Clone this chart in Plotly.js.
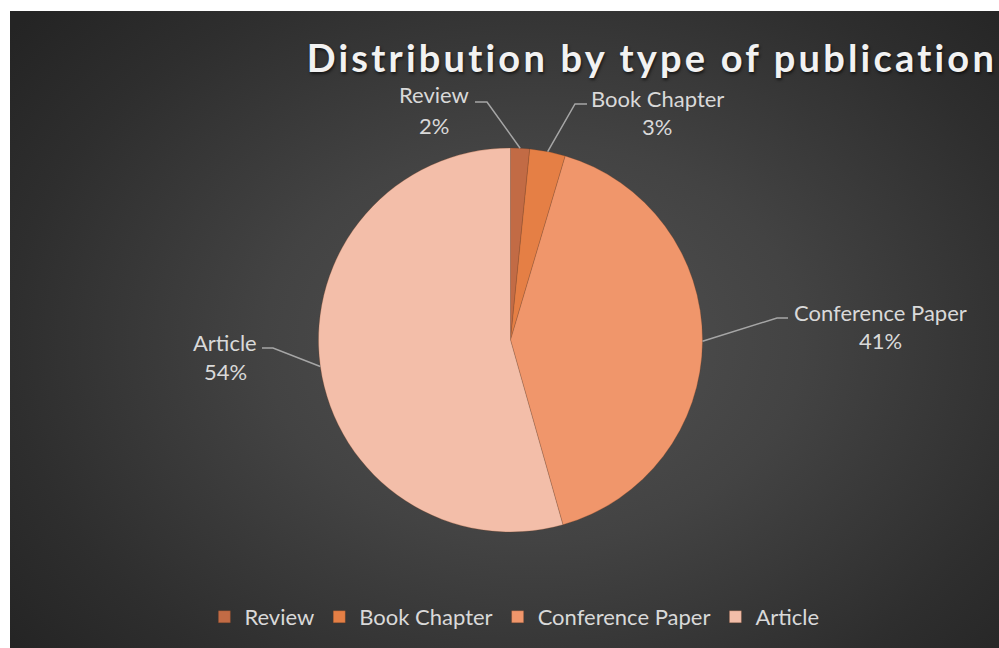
<!DOCTYPE html>
<html><head><meta charset="utf-8">
<script src="https://cdn.plot.ly/plotly-3.0.1.min.js"></script>
<style>
html,body{margin:0;padding:0;background:#fff;width:999px;height:648px;overflow:hidden}
#chart{position:absolute;left:10px;top:11px;width:989px;height:637px;
background: radial-gradient(ellipse 68% 78% at 53% 52%, #525252 0%, #434343 40%, #2e2e2e 78%, #242424 100%);}
.gtitle{letter-spacing:3.2px}
</style></head><body><div id="chart"></div>
<script>
const categories = ['Review', 'Book Chapter', 'Conference Paper', 'Article'];
const shares = [1.6, 3.0, 41.0, 54.4];
const sliceColors = ['#C26B45', '#E57F45', '#F0966B', '#F3BEA9'];
const chartTitle = 'Distribution by type of publication';

const W = 989, H = 637;
const cx = 500.5, cy = 329, R = 192;
// label layout (pixel positions within chart area): name center, pct center, line end at label, elbow
const labelLayout = [
  {name:[424,84], pct:[424,114], end:[465,91], elbow:[477,91]},
  {name:[647,87], pct:[647,116], end:[577,93], elbow:[565,93]},
  {name:[870,301], pct:[870,330], end:[778,307], elbow:[767,307]},
  {name:[215,331], pct:[215,360], end:[252,337], elbow:[263,337]}
];
const px = x => x / W, py = y => 1 - y / H;
const font = 'Lato, "Open Sans", sans-serif';
const total = shares.reduce((a,b)=>a+b,0);

const annotations = [], shapes = [];
let cum = 0;
shares.forEach((v,i)=>{
  const mid = (cum + v/2) / total; cum += v;
  const th = 2*Math.PI*mid;
  const ex = cx + R*Math.sin(th), ey = cy - R*Math.cos(th);
  const L = labelLayout[i];
  annotations.push({text: categories[i], x: px(L.name[0]), y: py(L.name[1]), xref:'paper', yref:'paper',
    xanchor:'center', yanchor:'middle', showarrow:false, font:{family:font, size:22, color:'#d9d9d9'}});
  annotations.push({text: Math.round(v/total*100)+'%', x: px(L.pct[0]), y: py(L.pct[1]), xref:'paper', yref:'paper',
    xanchor:'center', yanchor:'middle', showarrow:false, font:{family:font, size:22, color:'#d9d9d9'}});
  shapes.push({type:'path', xref:'paper', yref:'paper',
    path:`M${px(L.end[0])},${py(L.end[1])} L${px(L.elbow[0])},${py(L.elbow[1])} L${px(ex)},${py(ey)}`,
    line:{color:'#a6a6a6', width:1.5}});
});

const trace = {
  type:'pie', labels: categories, values: shares, sort:false, direction:'clockwise', rotation:0,
  textinfo:'none', hoverinfo:'skip',
  marker:{colors: sliceColors, line:{color:'rgba(120,60,30,0.35)', width:0.75}},
  domain:{x:[(cx-R)/W, (cx+R)/W], y:[1-(cy+R)/H, 1-(cy-R)/H]}
};

const layout = {
  width: W, height: H,
  paper_bgcolor:'rgba(0,0,0,0)', plot_bgcolor:'rgba(0,0,0,0)',
  margin:{l:0,r:0,t:0,b:0},
  title:{text: chartTitle, x: 0.649, xanchor:'center', xref:'container', y: 1-47.5/H, yref:'container', yanchor:'middle',
    font:{family:font, size:38, weight:'bold', color:'#f2f2f2', shadow:'1px 2px 3px rgba(0,0,0,0.6)'}},
  showlegend:true,
  legend:{orientation:'h', x:0.51, xanchor:'center', y: 1-606/H, yanchor:'middle',
    font:{family:font, size:22, color:'#d9d9d9'}, bgcolor:'rgba(0,0,0,0)'},
  annotations, shapes
};
Plotly.newPlot('chart', [trace], layout, {displayModeBar:false, staticPlot:true});
</script></body></html>
